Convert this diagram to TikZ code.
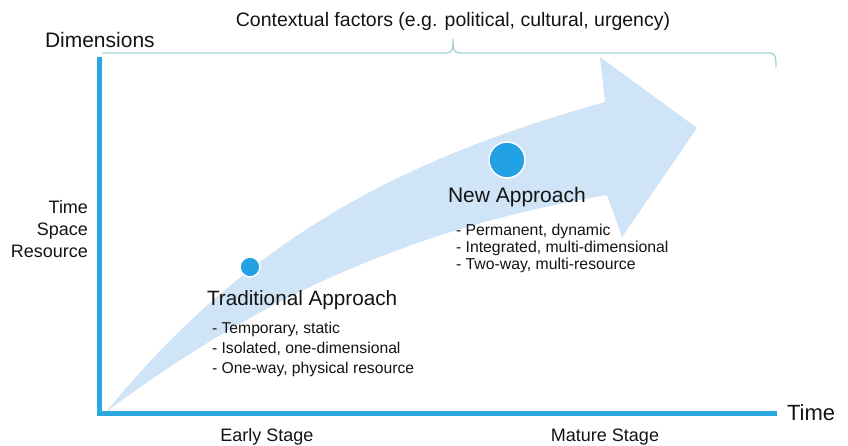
\documentclass[tikz,border=0pt]{standalone}
\usepackage{fontspec}
\setmainfont{Liberation Sans}
\definecolor{axisblue}{HTML}{2AA8E0}
\definecolor{arrowfill}{HTML}{CFE4F7}
\definecolor{dotblue}{HTML}{22A2E2}
\definecolor{bracecol}{HTML}{A8D2D8}
\newcommand{\myfs}[2]{\fontsize{#1}{#2}\selectfont}
\begin{document}
\begin{tikzpicture}[x=1pt,y=-1pt,
  lbl/.style={inner sep=0pt, outer sep=0pt, text=black!92},
  axisline/.style={draw=axisblue, line width=5pt},
  dot/.style={circle, fill=dotblue, draw=white, line width=1.5pt, inner sep=0pt},
  bracket/.style={draw=bracecol, line width=1.4pt}]
\useasboundingbox (0,0) rectangle (848,446);
\fill[white] (0,0) rectangle (848,446);
% big curved arrow
\fill[arrowfill] (106,412) .. controls (250,236) and (405,158) .. (605,102)
  -- (600,57) -- (697,128) -- (622,237) -- (607,195)
  .. controls (407,229) and (256,300) .. (106,412) -- cycle;
% contextual brace
\coordinate (bl) at (102,53);
\coordinate (bm) at (453,39);
\coordinate (br) at (776,67);
\draw[bracket] (bl) -- (446,53) .. controls (452,53) and (453,50) .. (bm)
  .. controls (453,50) and (454,53) .. (460,53) -- (769,53)
  .. controls (775,53) and (776,56) .. (br);
\node[lbl, anchor=base, font=\myfs{19.5}{22}] (ctx) at (453,27) {Contextual factors (e.g. political, cultural, urgency)};
% axes
\coordinate (ytop) at (99.5,57);
\coordinate (O) at (99.5,413);
\coordinate (xend) at (777,413);
\draw[axisline] (ytop) -- (O) -- (xend);
\node[lbl, anchor=base west, font=\myfs{21}{24}] (dim) at (45,47.5) {Dimensions};
\node[lbl, anchor=north east, align=right, font=\myfs{18}{22}] (tsr) at (88,200.5) {Time\\Space\\Resource};
\node[lbl, anchor=base west, font=\myfs{22}{24}] (time) at (787,420.5) {Time};
\node[lbl, anchor=base, font=\myfs{18}{20}] (early) at (267,441.5) {Early Stage};
\node[lbl, anchor=base, font=\myfs{18}{20}] (mature) at (605,441.5) {Mature Stage};
% traditional approach
\node[dot, minimum size=20pt] (tdot) at (250,267) {};
\node[lbl, anchor=base west, font=\myfs{20.7}{24}] (trad) at (207,305.5) {Traditional Approach};
\node[lbl, anchor=north west, align=left, font=\myfs{15.7}{20}] (tradlist) at (212,322.2) {- Temporary, static\\- Isolated, one-dimensional\\- One-way, physical resource};
% new approach
\node[dot, minimum size=36pt] (ndot) at (507,160) {};
\node[lbl, anchor=base west, font=\myfs{21}{24}] (new) at (448,202.6) {New Approach};
\node[lbl, anchor=north west, align=left, font=\myfs{15.8}{17}] (newlist) at (456,224.2) {- Permanent, dynamic\\- Integrated, multi-dimensional\\- Two-way, multi-resource};
\end{tikzpicture}
\end{document}
